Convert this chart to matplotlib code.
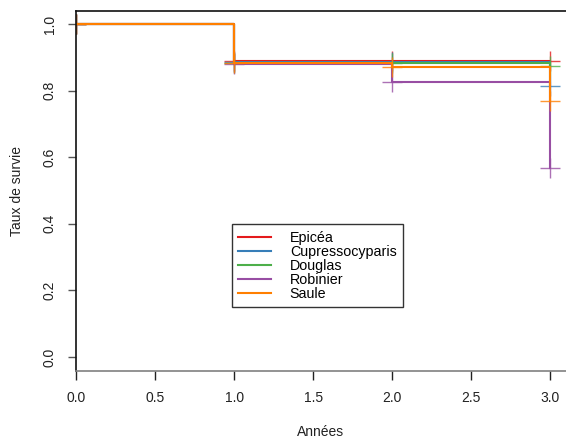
import matplotlib.pyplot as plt

plt.rcParams["font.family"] = ["Liberation Sans", "DejaVu Sans"]

# survival rate per species at each year
annees = [0, 1, 2, 3]
especes = ["Epicéa", "Cupressocyparis", "Douglas", "Robinier", "Saule"]
couleurs = ["#E41A1C", "#377EB8", "#4DAF4A", "#984EA3", "#FF7F00"]
survie_epicea = [1.0, 0.889, 0.889, 0.889]
survie_cupresso = [1.0, 0.885, 0.885, 0.814]
survie_douglas = [1.0, 0.884, 0.884, 0.874]
survie_robinier = [1.0, 0.881, 0.826, 0.568]
survie_saule = [1.0, 0.884, 0.870, 0.770]
survies = [survie_epicea, survie_cupresso, survie_douglas, survie_robinier, survie_saule]

fig = plt.figure(figsize=(5.66, 4.42), dpi=100)
ax = fig.add_axes([76 / 566, 1 - 371 / 442, 490 / 566, 360 / 442])

# step curves plus "+" marks at each year
for nom, col, surv in zip(especes, couleurs, survies):
    ax.step(annees, surv, where="post", color=col, lw=1.5, label=nom)
    ax.plot(annees, surv, "+", color=col, markersize=14, markeredgewidth=1.0, alpha=0.8)

ax.set_xlim(0, 3.1)
ax.set_ylim(-0.042, 1.039)
ax.set_xticks([0.0, 0.5, 1.0, 1.5, 2.0, 2.5, 3.0])
ax.set_yticks([0.0, 0.2, 0.4, 0.6, 0.8, 1.0])
ax.set_xticklabels(["0.0", "0.5", "1.0", "1.5", "2.0", "2.5", "3.0"], fontsize=10, color="#222222")
ax.set_yticklabels(["0.0", "0.2", "0.4", "0.6", "0.8", "1.0"], fontsize=10, color="#222222",
                   rotation=90, va="center")
ax.tick_params(axis="x", length=6.5, width=1, color="#222222", pad=8)
ax.tick_params(axis="y", length=6, width=1, color="#555555", pad=8)

ax.spines["right"].set_visible(False)
ax.spines["left"].set_color("#111111")
ax.spines["top"].set_color("#111111")
ax.spines["bottom"].set_color("#808080")
for s in ["left", "top", "bottom"]:
    ax.spines[s].set_linewidth(1.2)

ax.set_xlabel("Années", fontsize=10, color="#222222", labelpad=14)
ax.set_ylabel("Taux de survie", fontsize=10, color="#222222", labelpad=13)

leg = ax.legend(loc="upper left", bbox_to_anchor=(0.318, 0.408), borderaxespad=0,
                fontsize=10.3, frameon=True, fancybox=False, edgecolor="black",
                handlelength=2.3, handletextpad=1.3, labelspacing=0.0,
                borderpad=0.45)
leg.get_frame().set_linewidth(1.0)

plt.savefig("out.png", dpi=100)
